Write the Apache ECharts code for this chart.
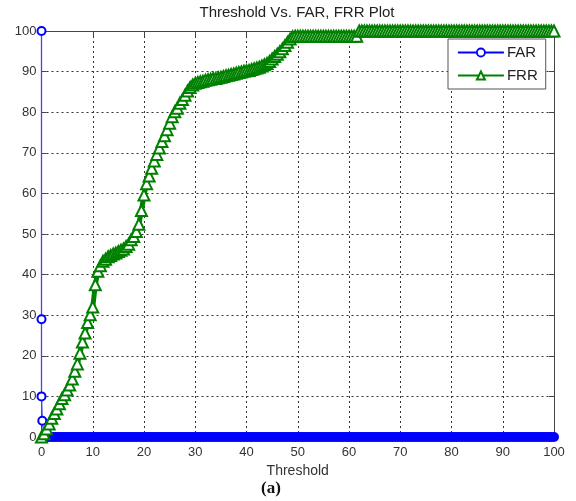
<!DOCTYPE html>
<html>
<head>
<meta charset="utf-8">
<script src="https://cdn.jsdelivr.net/npm/echarts@6/dist/echarts.min.js"></script>
<style>
html, body { margin: 0; padding: 0; background: #fff; }
#chart { width: 576px; height: 501px; }
</style>
</head>
<body>
<div id="chart"></div>
<script>
// thresholds, step 0.5
const thresholds = [
  0,0.5,1,1.5,2,2.5,3,3.5,4,4.5, 5,5.5,6,6.5,7,7.5,8,8.5,9,9.5,
  10,10.5,11,11.5,12,12.5,13,13.5,14,14.5, 15,15.5,16,16.5,17,17.5,18,18.5,19,19.5,
  20,20.5,21,21.5,22,22.5,23,23.5,24,24.5, 25,25.5,26,26.5,27,27.5,28,28.5,29,29.5,
  30,30.5,31,31.5,32,32.5,33,33.5,34,34.5, 35,35.5,36,36.5,37,37.5,38,38.5,39,39.5,
  40,40.5,41,41.5,42,42.5,43,43.5,44,44.5, 45,45.5,46,46.5,47,47.5,48,48.5,49,49.5,
  50,50.5,51,51.5,52,52.5,53,53.5,54,54.5, 55,55.5,56,56.5,57,57.5,58,58.5,59,59.5,
  60,60.5,61,61.5,62,62.5,63,63.5,64,64.5, 65,65.5,66,66.5,67,67.5,68,68.5,69,69.5,
  70,70.5,71,71.5,72,72.5,73,73.5,74,74.5, 75,75.5,76,76.5,77,77.5,78,78.5,79,79.5,
  80,80.5,81,81.5,82,82.5,83,83.5,84,84.5, 85,85.5,86,86.5,87,87.5,88,88.5,89,89.5,
  90,90.5,91,91.5,92,92.5,93,93.5,94,94.5, 95,95.5,96,96.5,97,97.5,98,98.5,99,99.5,
  100
];

const frr = [
  0,0.8,2,3.2,4.6,5.8,6.9,8.2,9.5,10.4,
  11.6,12.8,14.3,16.2,18,20.6,23.4,25.6,28.2,30.1,
  32,37.5,40.8,42.2,43.3,43.8,44.4,44.7,45.1,45.3,
  45.7,46,46.3,46.9,47.5,48.6,49.4,50.6,52.4,55.8,
  59.6,62.4,64.3,66.2,68,69.6,71.2,72.8,74.2,75.7,
  77.3,78.9,80.1,81,82.2,83.1,84.2,85.2,86.1,86.7,
  87.1,87.3,87.5,87.6,87.9,88,88.1,88.3,88.3,88.5,
  88.6,88.8,89,89.1,89.3,89.4,89.6,89.8,89.9,90.1,
  90.2,90.3,90.5,90.7,90.9,91.1,91.4,91.7,92,92.5,
  93.1,93.7,94.3,94.9,95.6,96.4,97.2,98,98.6,98.7,
  98.7,98.7,98.7,98.7,98.7,98.7,98.7,98.7,98.7,98.7,
  98.7,98.7,98.7,98.7,98.7,98.7,98.7,98.7,98.7,98.7,
  98.7,98.7,98.7,98.7,100,100,100,100,100,100,
  100,100,100,100,100,100,100,100,100,100,
  100,100,100,100,100,100,100,100,100,100,
  100,100,100,100,100,100,100,100,100,100,
  100,100,100,100,100,100,100,100,100,100,
  100,100,100,100,100,100,100,100,100,100,
  100,100,100,100,100,100,100,100,100,100,
  100,100,100,100,100,100,100,100,100,100,
  100
];

// FAR: first few points sit right at threshold ~0, then it stays at 0
const farLeadX = [0, 0, 0, 0.15];
const farLeadY = [100, 29, 10, 4];
const farTail = [
  0,0,0,0,0,0,0,0,0,0, 0,0,0,0,0,0,0,0,0,0,
  0,0,0,0,0,0,0,0,0,0, 0,0,0,0,0,0,0,0,0,0,
  0,0,0,0,0,0,0,0,0,0, 0,0,0,0,0,0,0,0,0,0,
  0,0,0,0,0,0,0,0,0,0, 0,0,0,0,0,0,0,0,0,0,
  0,0,0,0,0,0,0,0,0,0, 0,0,0,0,0,0,0,0,0,0,
  0,0,0,0,0,0,0,0,0,0, 0,0,0,0,0,0,0,0,0,0,
  0,0,0,0,0,0,0,0,0,0, 0,0,0,0,0,0,0,0,0,0,
  0,0,0,0,0,0,0,0,0,0, 0,0,0,0,0,0,0,0,0,0,
  0,0,0,0,0,0,0,0,0,0, 0,0,0,0,0,0,0,0,0,0,
  0,0,0,0,0,0,0,0,0,0, 0,0,0,0,0,0,0,0,0,0
];

// lead points are drawn as rings; the long run at 0 overlaps into a solid band
const farData = farLeadX.map((x, i) => ({
    value: [x, farLeadY[i]], symbol: 'emptyCircle', symbolSize: 8,
    itemStyle: { borderWidth: 1.8 }
  }))
  .concat(farTail.map((v, i) => [thresholds[i + 1], v]));
const frrData = thresholds.map((t, i) => [t, frr[i]]);

const font = 'Liberation Sans, Arial, sans-serif';
const chart = echarts.init(document.getElementById('chart'));

const tickAxis = {
  type: 'value', min: 0, max: 100, interval: 10,
  axisLine: { show: true, onZero: false, lineStyle: { color: '#444', width: 1 } },
  axisTick: { show: true, inside: true, length: 5, lineStyle: { color: '#444' } },
  axisLabel: { show: false },
  splitLine: { show: false }
};

chart.setOption({
  animation: false,
  backgroundColor: '#fff',
  grid: { left: 41.5, right: 22, top: 31, bottom: 64 },
  legend: {
    orient: 'vertical',
    left: 448, top: 39,
    itemWidth: 46, itemHeight: 10, itemGap: 8,
    padding: [6, 8, 6, 9],
    backgroundColor: '#fff',
    borderColor: '#555', borderWidth: 1,
    textStyle: { fontFamily: font, fontSize: 15, color: '#222', padding: [0, 0, 0, -2] },
    data: [
      { name: 'FAR', lineStyle: { color: '#0000ff', width: 1.8 },
        itemStyle: { color: '#fff', borderColor: '#0000ff', borderWidth: 1.8 } },
      { name: 'FRR', lineStyle: { color: '#008000', width: 1.8 },
        itemStyle: { color: '#008000', borderColor: '#008000', borderWidth: 1.8 } }
    ]
  },
  xAxis: [
    {
      type: 'value', min: 0, max: 100, interval: 10, position: 'bottom',
      name: 'Threshold', nameLocation: 'middle', nameGap: 27,
      nameTextStyle: { fontFamily: font, fontSize: 14, color: '#333' },
      axisLine: { show: true, onZero: false, lineStyle: { color: '#444' } },
      axisTick: { show: true, inside: true, length: 5, lineStyle: { color: '#444' } },
      axisLabel: { fontFamily: font, fontSize: 13, color: '#333', margin: 9 },
      splitLine: { show: true, lineStyle: { type: [2, 3], color: '#333', width: 1 } }
    },
    Object.assign({ position: 'top' }, tickAxis)
  ],
  yAxis: [
    {
      type: 'value', min: 0, max: 100, interval: 10, position: 'left',
      axisLine: { show: true, onZero: false, lineStyle: { color: '#444' } },
      axisTick: { show: true, inside: true, length: 5, lineStyle: { color: '#444' } },
      axisLabel: { fontFamily: font, fontSize: 13, color: '#333', margin: 5 },
      splitLine: { show: true, lineStyle: { type: [2, 3], color: '#333', width: 1 } }
    },
    Object.assign({ position: 'right' }, tickAxis)
  ],
  series: [
    {
      name: 'FAR', type: 'line', data: farData, clip: false,
      symbol: 'circle', symbolSize: 10,
      lineStyle: { color: '#4444ff', width: 1.3 },
      itemStyle: { color: '#0000ff' },
      z: 3
    },
    {
      name: 'FRR', type: 'line', data: frrData, clip: false,
      symbol: 'emptyTriangle', symbolSize: 11,
      lineStyle: { color: '#008000', width: 5 },
      itemStyle: { color: '#008000', borderWidth: 3.2 },
      z: 4
    }
  ],
  graphic: [
    {
      type: 'text', x: 297, y: 13,
      style: { text: 'Threshold Vs. FAR, FRR Plot', font: '15px ' + font, fill: '#222', textAlign: 'center', textVerticalAlign: 'middle' }
    },
    {
      type: 'text', x: 271, y: 489,
      style: { text: '(a)', font: 'bold 17px Liberation Serif, Times New Roman, serif', fill: '#111', textAlign: 'center', textVerticalAlign: 'middle' }
    }
  ]
});
</script>
</body>
</html>
